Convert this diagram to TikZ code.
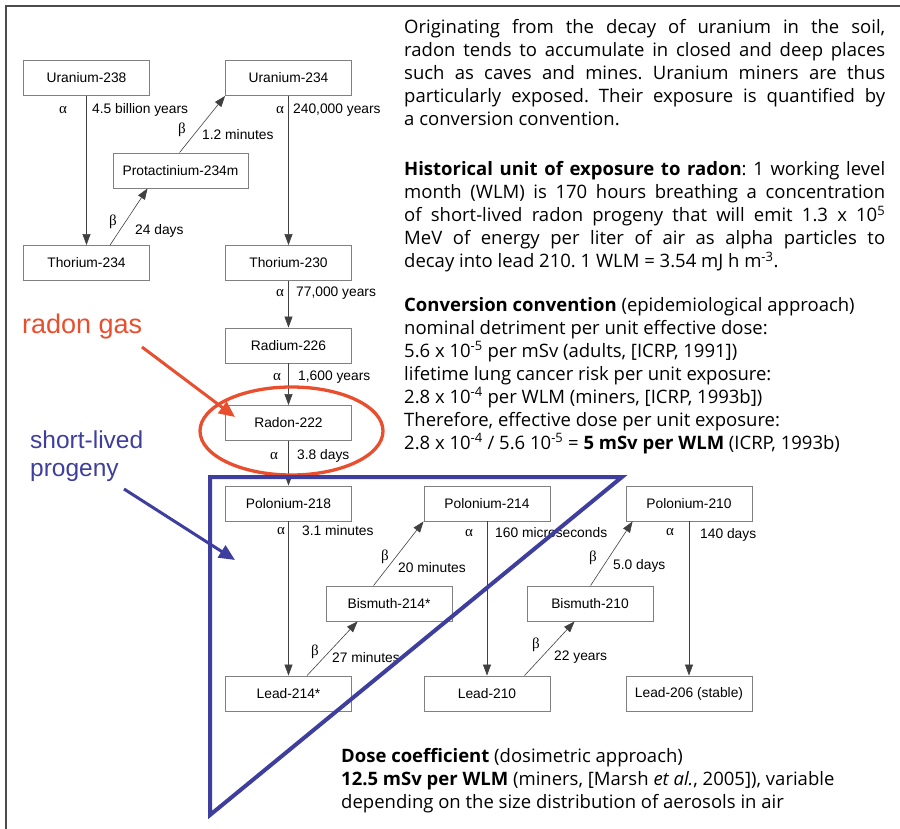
\documentclass[tikz,border=0pt]{standalone}
\usepackage{fontspec}
\setmainfont{Open Sans}
\newfontfamily\boxfont{Liberation Sans}
\newfontfamily\greekfont{Liberation Serif}
\usetikzlibrary{arrows.meta}
\definecolor{boxgray}{RGB}{128,128,128}
\definecolor{radonred}{RGB}{233,78,46}
\definecolor{progblue}{RGB}{62,62,158}
\newcommand{\boxsize}{\fontsize{13.8}{16}\selectfont}
\newcommand{\textsize}{\fontsize{18.5}{23}\selectfont}
\frenchspacing

\tikzset{
  nuclide/.style={draw=boxgray,line width=0.9pt,minimum width=126pt,minimum height=35pt,inner sep=0pt,font=\boxfont\boxsize},
  decay/.style={draw=black!75,line width=0.6pt,-{Triangle[length=11pt,width=8pt]}},
  halflife/.style={anchor=west,inner sep=0pt,font=\boxfont\boxsize},
  mode/.style={inner sep=0pt,font=\greekfont\fontsize{15}{16}\selectfont},
  para/.style={anchor=north west,inner sep=0pt,font=\textsize},
}

\begin{document}
\begin{tikzpicture}[x=1pt,y=-1pt]
\useasboundingbox (0,0) rectangle (900,829);
\draw[line width=1.5pt,black!70] (6,829) -- (6,6) -- (900,6);

% uranium series
\node[nuclide] (u238) at (86.5,78) {Uranium-238};
\node[nuclide] (u234) at (288.5,78) {Uranium-234};
\node[nuclide,minimum width=135pt] (pa234) at (180.5,170.5) {Protactinium-234m};
\node[nuclide] (th234) at (86.5,263) {Thorium-234};
\node[nuclide] (th230) at (288.5,263) {Thorium-230};
\node[nuclide] (ra226) at (288.5,345.5) {Radium-226};
\node[nuclide] (rn222) at (288.5,423) {Radon-222};
\node[nuclide] (po218) at (288.5,503.5) {Polonium-218};
\node[nuclide] (po214) at (487,503.5) {Polonium-214};
\node[nuclide] (bi214) at (389,603.5) {Bismuth-214*};
\node[nuclide] (pb214) at (288.5,693.5) {Lead-214*};
\node[nuclide] (pb210) at (487,693.5) {Lead-210};
\node[nuclide] (bi210) at (590,603.5) {Bismuth-210};
\node[nuclide] (po210) at (689,503.5) {Polonium-210};
\node[nuclide] (pb206) at (689,693.5) {Lead-206 (stable)};

\draw[decay] (u238) -- (th234);
\draw[decay] ([xshift=87pt]th234.north west) -- ([xshift=35pt]pa234.south west);
\draw[decay] ([xshift=67pt]pa234.north west) -- (u234.south west);
\draw[decay] (u234) -- (th230);
\draw[decay] (th230) -- (ra226);
\draw[decay] (ra226) -- (rn222);
\draw[decay] (rn222) -- (po218);
\draw[decay] (po218) -- (pb214);
\draw[decay] ([xshift=82pt]pb214.north west) -- ([xshift=32pt]bi214.south west);
\draw[decay] ([xshift=48pt]bi214.north west) -- (po214.south west);
\draw[decay] (po214) -- (pb210);
\draw[decay] ([xshift=101pt]pb210.north west) -- ([xshift=48pt]bi210.south west);
\draw[decay] ([xshift=64pt]bi210.north west) -- ([xshift=7pt]po210.south west);
\draw[decay] (po210) -- (pb206);

% decay modes and half-lives
\node[mode] (m1) at (63,110) {α};
\node[halflife] (t1) at (92,110) {4.5 billion years};
\node[mode] (m2) at (113,222) {β};
\node[halflife] (t2) at (135,231) {24 days};
\node[mode] (m3) at (182,130) {β};
\node[halflife] (t3) at (202,135) {1.2 minutes};
\node[mode] (m4) at (280,110) {α};
\node[halflife] (t4) at (293,110) {240,000 years};
\node[mode] (m5) at (280,293) {α};
\node[halflife] (t5) at (296,293) {77,000 years};
\node[mode] (m6) at (277,377) {α};
\node[halflife] (t6) at (298,377) {1,600 years};
\node[mode] (m7) at (274,456) {α};
\node[halflife] (t7) at (297,456) {3.8 days};
\node[mode] (m8) at (281,531) {α};
\node[halflife] (t8) at (302,531) {3.1 minutes};
\node[mode] (m9) at (315,652) {β};
\node[halflife] (t9) at (332,658) {27 minutes};
\node[mode] (m10) at (385,557) {β};
\node[halflife] (t10) at (398,568) {20 minutes};
\node[mode] (m11) at (469,533) {α};
\node[halflife] (t11) at (495,533) {160 microseconds};
\node[mode] (m12) at (536,645) {β};
\node[halflife] (t12) at (554,657) {22 years};
\node[mode] (m13) at (593,558) {β};
\node[halflife] (t13) at (613,566) {5.0 days};
\node[mode] (m14) at (670,532) {α};
\node[halflife] (t14) at (700,535) {140 days};

% highlights
\draw[radonred,line width=3.3pt] (291.5,431) ellipse [x radius=91.5pt,y radius=44pt];
\node[text=radonred,font=\boxfont\fontsize{27}{30}\selectfont,anchor=west,inner sep=0pt] (gas) at (22,327) {radon gas};
\coordinate (gasfrom) at (142,347);
\coordinate (gasto) at (235,417);
\draw[radonred,line width=3pt,-{Triangle[length=16pt,width=14pt]}] (gasfrom) -- (gasto);

\draw[progblue,line width=4pt,line join=miter] (210,477) -- (622,477) -- (210,815) -- cycle;
\node[text=progblue,font=\boxfont\fontsize{24.5}{28}\selectfont,align=left,anchor=west,inner sep=0pt] (prog) at (30,456) {short-lived\\progeny};
\coordinate (progfrom) at (124,489);
\coordinate (progto) at (235,560);
\draw[progblue,line width=3pt,-{Triangle[length=16pt,width=14pt]}] (progfrom) -- (progto);

% text
\node[para,text width=481pt,align=justify] (intro) at (404,19) {Originating from the decay of uranium in the soil,\linebreak radon tends to accumulate in closed and deep places\linebreak such as caves and mines. Uranium miners are thus\linebreak particularly exposed. Their exposure is quantified by\linebreak a conversion convention.};
\node[para,text width=481pt,align=justify] (wlm) at (404,161) {\textbf{Historical unit of exposure to radon}: 1 working level\linebreak month (WLM) is 170 hours breathing a concentration\linebreak of short-lived radon progeny that will emit 1.3 x 10\textsuperscript{5}\linebreak MeV of energy per liter of air as alpha particles to\linebreak decay into lead 210. 1 WLM = 3.54 mJ h m\textsuperscript{-3}.};
\node[para,align=left] (conv) at (404,297) {\textbf{Conversion convention} (epidemiological approach)\\nominal detriment per unit effective dose:\\5.6 x 10\textsuperscript{-5} per mSv (adults, [ICRP, 1991])\\lifetime lung cancer risk per unit exposure:\\2.8 x 10\textsuperscript{-4} per WLM (miners, [ICRP, 1993b])\\Therefore, effective dose per unit exposure:\\2.8 x 10\textsuperscript{-4} / 5.6 10\textsuperscript{-5} = \textbf{5 mSv per WLM} (ICRP, 1993b)};
\node[para,align=left] (dose) at (341,748) {\textbf{Dose coefficient} (dosimetric approach)\\\textbf{12.5 mSv per WLM} (miners, [Marsh \textit{et al.}, 2005]), variable\\depending on the size distribution of aerosols in air};
\end{tikzpicture}
\end{document}
